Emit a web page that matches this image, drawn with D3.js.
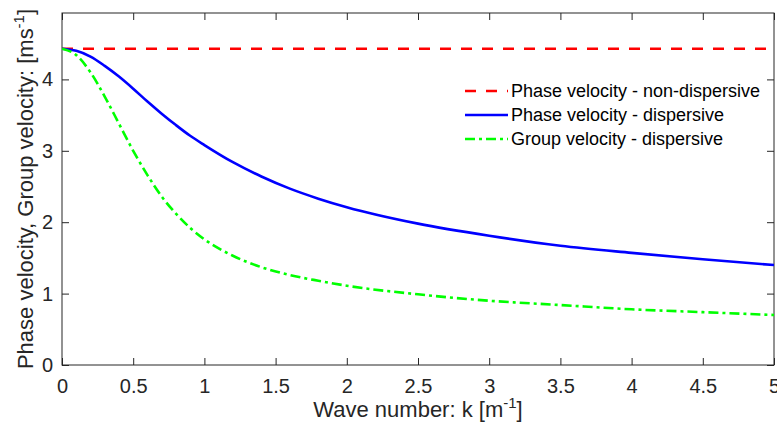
<!DOCTYPE html>
<html>
<head>
<meta charset="utf-8">
<script src="https://cdn.jsdelivr.net/npm/d3@7"></script>
<style>
  html, body { margin: 0; padding: 0; background: #fff; }
  svg { display: block; font-family: "Liberation Sans", Arial, Helvetica, sans-serif; }
</style>
</head>
<body>
<svg id="chart" width="777" height="435"></svg>
<script>
// Wave number k [1/m]
const waveNumber = [0, 0.1, 0.2, 0.3, 0.4, 0.5, 0.6, 0.7, 0.8, 0.9, 1.0,
                    1.2, 1.4, 1.6, 1.8, 2.0, 2.5, 3.0, 3.5, 4.0, 4.5, 5.0];
// Phase velocity, shallow-water (non-dispersive) limit [m/s]
const phaseNonDispersive = [4.43, 4.43, 4.43, 4.43, 4.43, 4.43, 4.43, 4.43, 4.43, 4.43, 4.43,
                            4.43, 4.43, 4.43, 4.43, 4.43, 4.43, 4.43, 4.43, 4.43, 4.43, 4.43];
// Phase velocity, dispersive [m/s]
const phaseDispersive = [4.43, 4.40, 4.32, 4.19, 4.04, 3.87, 3.69, 3.52, 3.36, 3.21, 3.08,
                         2.84, 2.64, 2.47, 2.33, 2.21, 1.98, 1.81, 1.67, 1.57, 1.48, 1.40];
// Group velocity, dispersive [m/s]
const groupDispersive = [4.43, 4.34, 4.10, 3.76, 3.38, 3.00, 2.66, 2.36, 2.12, 1.92, 1.76,
                         1.53, 1.37, 1.26, 1.18, 1.11, 0.99, 0.90, 0.84, 0.78, 0.74, 0.70];

const xTicks = [0, 0.5, 1, 1.5, 2, 2.5, 3, 3.5, 4, 4.5, 5];
const yTicks = [0, 1, 2, 3, 4];

const seriesNames = ["Phase velocity - non-dispersive", "Phase velocity - dispersive", "Group velocity - dispersive"];
const seriesColors = ["#ff0000", "#0000ff", "#00ff00"];
const seriesDash = ["11,10", null, "10,4,3,4"];
const seriesValues = [phaseNonDispersive, phaseDispersive, groupDispersive];

const svg = d3.select("#chart");
const plotLeft = 62, plotRight = 774, plotTop = 13, plotBottom = 365;

const x = d3.scaleLinear().domain([0, 5]).range([plotLeft, plotRight]);
const y = d3.scaleLinear().domain([0, 4.93]).range([plotBottom, plotTop]);

const axisColor = "#262626";
const tickLen = 7;
const fmt = d => String(d);

// Plot box
svg.append("rect")
  .attr("x", plotLeft).attr("y", plotTop)
  .attr("width", plotRight - plotLeft).attr("height", plotBottom - plotTop)
  .attr("fill", "none").attr("stroke", axisColor).attr("stroke-width", 1);

// Axes with inward ticks, mirrored on the opposite sides
const gx = svg.append("g").attr("transform", `translate(0,${plotBottom})`)
  .call(d3.axisBottom(x).tickValues(xTicks).tickSize(-tickLen).tickPadding(14).tickFormat(fmt));
const gxTop = svg.append("g").attr("transform", `translate(0,${plotTop})`)
  .call(d3.axisTop(x).tickValues(xTicks).tickSize(-tickLen).tickFormat(""));
const gy = svg.append("g").attr("transform", `translate(${plotLeft},0)`)
  .call(d3.axisLeft(y).tickValues(yTicks).tickSize(-tickLen).tickPadding(9).tickFormat(fmt));
const gyRight = svg.append("g").attr("transform", `translate(${plotRight},0)`)
  .call(d3.axisRight(y).tickValues(yTicks).tickSize(-tickLen).tickFormat(""));

[gx, gxTop, gy, gyRight].forEach(g => {
  g.select(".domain").remove();
  g.selectAll(".tick line").attr("stroke", axisColor).attr("stroke-width", 1);
  g.selectAll(".tick text").attr("fill", axisColor)
    .style("font-family", '"Liberation Sans", Arial, sans-serif')
    .style("font-size", "20px");
});
gx.selectAll(".tick text").attr("dy", "0.71em");

// Axis titles
const xt = svg.append("text")
  .attr("x", (plotLeft + plotRight) / 2).attr("y", 417)
  .attr("text-anchor", "middle").attr("fill", axisColor)
  .style("font-size", "22px");
xt.append("tspan").text("Wave number: k [m");
xt.append("tspan").attr("dy", -9).style("font-size", "15px").text("-1");
xt.append("tspan").attr("dy", 9).text("]");

const yt = svg.append("text")
  .attr("transform", `translate(33,${(plotTop + plotBottom) / 2}) rotate(-90)`)
  .attr("text-anchor", "middle").attr("fill", axisColor)
  .style("font-size", "22px");
yt.append("tspan").text("Phase velocity, Group velocity: [ms");
yt.append("tspan").attr("dy", -9).style("font-size", "15px").text("-1");
yt.append("tspan").attr("dy", 9).text("]");

// Curves
const line = d3.line()
  .x((d, i) => x(waveNumber[i]))
  .y(d => y(d))
  .curve(d3.curveMonotoneX);

const plot = svg.append("g");
plot.append("defs").append("clipPath").attr("id", "clip")
  .append("rect").attr("x", plotLeft).attr("y", plotTop)
  .attr("width", plotRight - plotLeft).attr("height", plotBottom - plotTop);

seriesValues.forEach((vals, s) => {
  plot.append("path")
    .datum(vals)
    .attr("d", line)
    .attr("fill", "none")
    .attr("stroke", seriesColors[s])
    .attr("stroke-width", 2.6)
    .attr("stroke-dasharray", seriesDash[s])
    .attr("clip-path", "url(#clip)");
});

// Legend
const legend = svg.append("g");
const legendRows = [91, 115, 139];
seriesNames.forEach((name, s) => {
  legend.append("line")
    .attr("x1", 465).attr("x2", 508)
    .attr("y1", legendRows[s]).attr("y2", legendRows[s])
    .attr("stroke", seriesColors[s]).attr("stroke-width", 2.6)
    .attr("stroke-dasharray", seriesDash[s]);
  legend.append("text")
    .attr("x", 511).attr("y", legendRows[s])
    .attr("dy", "0.35em")
    .attr("fill", "#000")
    .style("font-size", "18px")
    .text(name);
});
</script>
</body>
</html>
